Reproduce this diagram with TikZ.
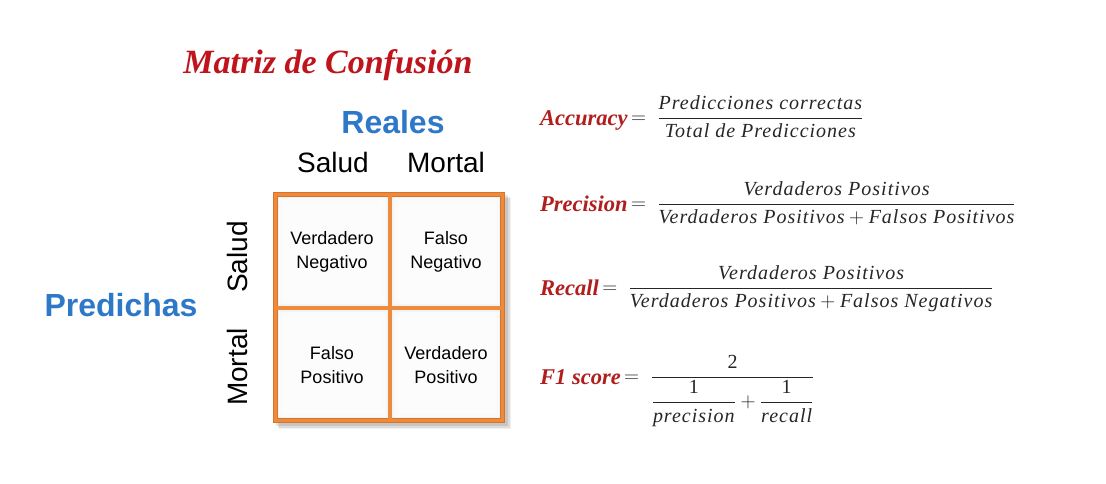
\documentclass[tikz,border=0pt]{standalone}
\usepackage{fontspec}
\usepackage{amsmath}
\setmainfont{Liberation Serif}
\setsansfont{Liberation Sans}
\newfontfamily\titlefont{Liberation Serif}
\newfontfamily\formfont{Liberation Serif}[LetterSpace=5]
\definecolor{titlered}{HTML}{C0141C}
\definecolor{labred}{HTML}{B01E1E}
\definecolor{axisblue}{HTML}{2E78C8}
\definecolor{gridorange}{HTML}{EE8A3C}
\definecolor{gridedge}{HTML}{D9732A}
\definecolor{formgray}{HTML}{262626}
\newcommand\metriclabel[1]{\raisebox{-2pt}{\textcolor{labred}{\titlefont\bfseries\itshape\fontsize{22.5}{26}\selectfont #1}}}
\newcommand\tx[1]{\text{#1}}
\begin{document}
\begin{tikzpicture}[x=1pt,y=-1pt,
  titletext/.style={font=\titlefont\bfseries\itshape\fontsize{34}{38}\selectfont, text=titlered, inner sep=0pt},
  axistitle/.style={font=\sffamily\bfseries\fontsize{32}{36}\selectfont, text=axisblue, inner sep=0pt},
  axislabel/.style={font=\sffamily\fontsize{28}{32}\selectfont, inner sep=0pt},
  celltext/.style={font=\sffamily\fontsize{18}{24}\selectfont, align=center, inner sep=0pt},
  formula/.style={anchor=west, inner sep=0pt, text=formgray, font=\formfont\itshape\fontsize{20}{24}\selectfont}
]
\useasboundingbox (0,0) rectangle (1106,484);
\fill[white] (0,0) rectangle (1106,484);

% title and axis headings
\node[titletext] (title) at (328,65) {Matriz de Confusión};
\node[axistitle] (reales) at (393,122) {Reales};
\node[axistitle] (predichas) at (121,305) {Predichas};
\node[axislabel] (colS) at (333,162) {Salud};
\node[axislabel] (colM) at (446,162) {Mortal};
\node[axislabel, rotate=90] (rowS) at (237,257) {Salud};
\node[axislabel, rotate=90] (rowM) at (237,367) {Mortal};

% drop shadow of the matrix frame
\foreach \o/\a in {6/0.06,4.5/0.08,3/0.10}{
  \fill[black, opacity=\a] (273+\o,192+\o) rectangle (505+\o,423+\o);
}
% bevelled cells
\foreach \xa/\xb in {275/390,390/503}{
  \foreach \ya/\yb in {194/308,308/421}{
    \fill[gray!16] (\xa,\ya) rectangle (\xb,\yb);
    \fill[gray!9] (\xa+2,\ya+2) rectangle (\xb-2,\yb-2);
    \fill[gray!4] (\xa+4,\ya+4) rectangle (\xb-4,\yb-4);
    \fill[white!98!gray] (\xa+7,\ya+7) rectangle (\xb-7,\yb-7);
  }
}
% orange frame and dividers
\draw[gridedge, line width=5.5pt] (275.5,194.5) rectangle (502.5,420.5);
\draw[gridorange, line width=3pt] (275.5,194.5) rectangle (502.5,420.5);
\draw[gridorange, line width=3.2pt] (390,195) -- (390,420);
\draw[gridorange, line width=3.2pt] (276,308) -- (502,308);

% cell contents
\node[celltext] (vn) at (332,252) {Verdadero\\Negativo};
\node[celltext] (fn) at (446,252) {Falso\\Negativo};
\node[celltext] (fp) at (332,365) {Falso\\Positivo};
\node[celltext] (vp) at (446,365) {Verdadero\\Positivo};

% metric definitions
\node[formula] (acc) at (540,117) {\metriclabel{Accuracy}\,$= \;\dfrac{\tx{Predicciones correctas}}{\tx{Total de Predicciones}}$};
\node[formula] (prec) at (540,203) {\metriclabel{Precision}\,$= \;\dfrac{\tx{Verdaderos Positivos}}{\tx{Verdaderos Positivos} + \tx{Falsos Positivos}}$};
\node[formula] (rec) at (540,289) {\metriclabel{Recall}\,$= \;\dfrac{\tx{Verdaderos Positivos}}{\tx{Verdaderos Positivos} + \tx{Falsos Negativos}}$};
\node[formula] (f1) at (540,391) {\metriclabel{F1 score}\,$= \;\dfrac{\tx{\upshape 2}}{\dfrac{\tx{\upshape 1}}{\tx{precision}}+\dfrac{\tx{\upshape 1}}{\tx{recall}}}$};
\end{tikzpicture}
\end{document}
